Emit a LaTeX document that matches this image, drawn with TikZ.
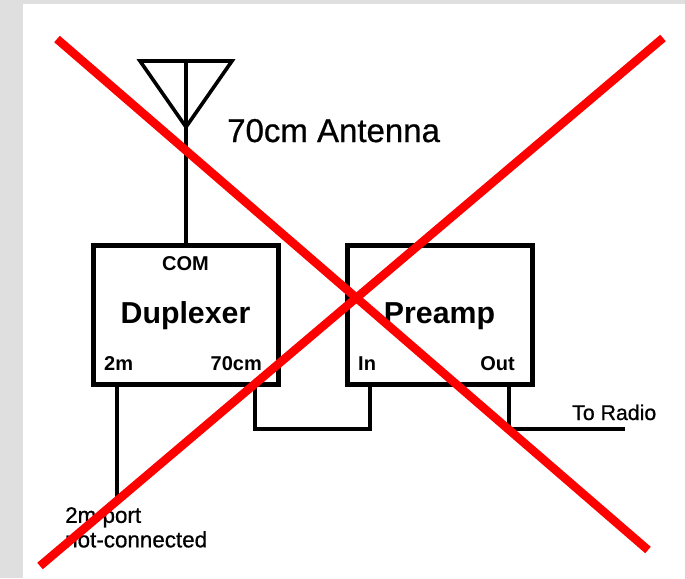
\documentclass[tikz,border=0pt]{standalone}
\usepackage{fontspec}
\setmainfont{Liberation Sans}
\newfontfamily\notefont[FakeBold=0.7]{Liberation Sans}
\usetikzlibrary{positioning}
\definecolor{page}{HTML}{DFDFDF}
\definecolor{cross}{HTML}{FF0000}

\begin{document}
\begin{tikzpicture}[
  x=1pt, y=-1pt,
  node distance=69pt,
  unit/.style={draw, line width=5pt, outer sep=0pt, inner sep=0pt, minimum width=185pt, minimum height=139pt, text height=17pt, text depth=0pt, font=\fontsize{30.3}{34}\selectfont\bfseries},
  port/.style={inner sep=0pt, font=\fontsize{20}{22}\selectfont\bfseries},
  note/.style={inner sep=0pt, align=left, font=\fontsize{21.3}{24}\selectfont\notefont},
  wire/.style={line width=3.6pt, miter limit=10},
  strike/.style={cross, line width=8.5pt}
]
\useasboundingbox (0,0) rectangle (685,578);
\fill[page] (0,0) rectangle (685,578);
\fill[white] (23,4) rectangle (685,578);

\node[unit] (duplexer) at (185.5,314.5) {Duplexer};
\node[unit, right=of duplexer] (preamp) {Preamp};

\node[port, anchor=base] (com) at (185.5,270) {COM};
\node[port, anchor=base west] (twom) at (104,370) {2m};
\node[port, anchor=base east] (seventy) at (262,370) {70cm};
\node[port, anchor=base west] (in) at (358,370) {In};
\node[port, anchor=base east] (out) at (515,370) {Out};

\node[note, anchor=base west, font=\fontsize{33}{36}\selectfont\notefont] (antlabel) at (227,142) {70cm Antenna};
\node[note, anchor=base west] (radiolabel) at (572,420) {To Radio};
\node[note, anchor=north west, font=\fontsize{22.4}{24.5}\selectfont\notefont] (portlabel) at (65,507) {2m port\\not-connected};

% antenna
\coordinate (tipleft) at (140,61);
\coordinate (tipright) at (232,61);
\coordinate (tipmid) at (186,61);
\coordinate (apex) at (186,127);
\draw[wire, line join=miter] (tipleft) -- (tipright) -- (apex) -- cycle;
\draw[wire] (tipmid) -- (tipmid |- duplexer.north);

% ports
\coordinate (twomend) at (117,497);
\coordinate (linkdown) at (255,429);
\coordinate (linkup) at (370,429);
\coordinate (outdown) at (509,429);
\coordinate (radioend) at (625,429);
\draw[wire] (twomend |- duplexer.south) -- (twomend);
\draw[wire] (linkdown |- duplexer.south) -- (linkdown) -- (linkup) -- (linkup |- preamp.south);
\draw[wire] (outdown |- preamp.south) -- (outdown) -- (radioend);

% big red cross
\coordinate (crossa) at (57,39);
\coordinate (crossb) at (648,550);
\coordinate (crossc) at (663,38);
\coordinate (crossd) at (40,566);
\draw[strike] (crossa) -- (crossb);
\draw[strike] (crossc) -- (crossd);
\end{tikzpicture}
\end{document}
